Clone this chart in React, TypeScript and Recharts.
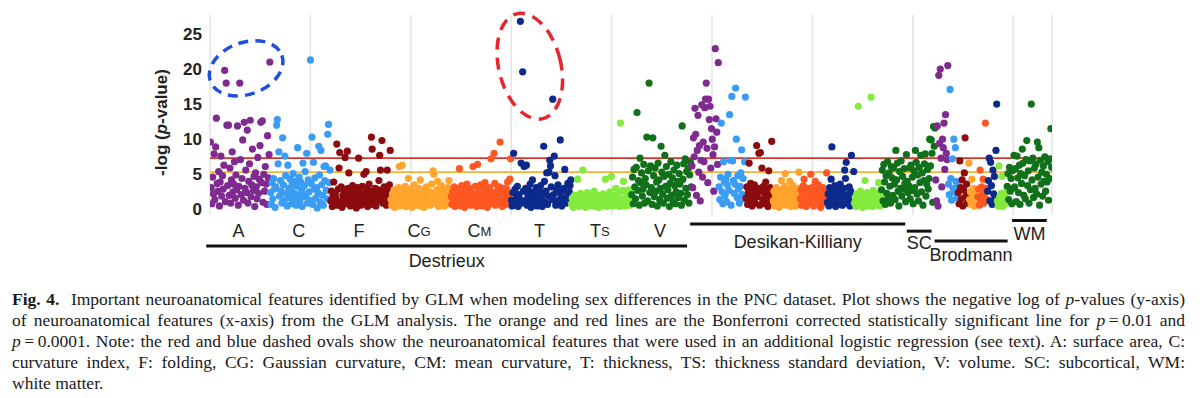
import React from 'react';
import {
  ScatterChart,
  Scatter,
  XAxis,
  YAxis,
  CartesianGrid,
  ReferenceLine,
  ReferenceDot,
} from 'recharts';

// ---------------- DATA: -log(p-value) per feature, in x order ----------------
// Destrieux atlas
const destrieuxArea = [
  9.6, 3.1, 0.8, 4.6, 2.2, 7.9, 1.4, 8.9, 13.0, 3.7,
  2.6, 5.4, 0.5, 3.9, 7.6, 1.9, 4.8, 2.9, 6.3, 19.8,
  1.1, 18.0, 12.0, 3.4, 12.0, 2.0, 5.9, 0.9, 4.2, 8.2,
  2.5, 3.6, 6.8, 1.6, 4.9, 2.8, 11.9, 0.6, 3.3, 18.0,
  7.1, 2.1, 4.4, 9.9, 1.3, 12.4, 3.0, 5.6, 2.4, 11.3,
  0.9, 4.0, 6.5, 12.7, 1.8, 3.5, 8.6, 2.7, 4.7, 0.4,
  5.2, 3.2, 1.5, 7.4, 2.3, 4.3, 9.1, 12.4, 3.8, 12.6,
  1.0, 5.0, 2.6, 6.1, 3.6, 0.7, 10.5, 4.5, 7.8, 21.0,
];
const destrieuxCurvIdx = [
  2.4, 0.7, 3.8, 1.5, 4.4, 2.9, 0.3, 3.2, 12.0, 12.8,
  6.5, 8.2, 1.9, 4.1, 2.6, 0.9, 10.2, 3.5, 1.2, 7.6,
  4.8, 2.2, 0.5, 6.3, 3.0, 1.7, 4.3, 2.7, 0.8, 3.6,
  5.1, 1.4, 2.3, 4.0, 0.6, 3.3, 8.8, 2.0, 4.6, 1.1,
  3.9, 2.8, 0.4, 6.6, 1.8, 3.4, 5.4, 2.1, 8.0, 0.9,
  4.2, 2.5, 1.3, 21.3, 3.7, 10.3, 0.7, 6.7, 2.9, 4.5,
  1.6, 3.1, 0.2, 2.4, 9.0, 4.9, 1.0, 8.4, 3.5, 2.0,
  0.6, 6.1, 4.1, 6.2, 2.7, 1.5, 10.7, 12.1, 3.8, 5.6,
];
const destrieuxFolding = [
  1.2, 2.6, 0.4, 1.8, 3.9, 0.9, 2.2, 1.5, 9.3, 0.6,
  2.9, 5.9, 8.1, 1.1, 3.2, 0.3, 2.0, 1.6, 2.7, 7.4,
  0.8, 1.9, 8.3, 3.0, 5.2, 1.3, 0.5, 2.4, 1.7, 3.4,
  0.9, 2.1, 1.4, 2.8, 0.2, 1.8, 3.1, 7.3, 1.0, 2.5,
  0.6, 1.5, 3.3, 2.2, 5.0, 0.8, 1.2, 5.4, 2.9, 0.4,
  1.9, 3.6, 1.1, 2.6, 10.3, 8.6, 0.7, 2.3, 1.6, 3.0,
  0.5, 2.0, 1.3, 2.8, 4.1, 7.7, 5.6, 1.7, 9.8, 0.9,
  2.4, 3.2, 1.0, 2.1, 0.6, 5.6, 1.5, 2.7, 3.5, 8.4,
];
const destrieuxGaussCurv = [
  1.4, 0.6, 2.2, 1.0, 2.8, 0.3, 1.7, 2.4, 0.9, 1.3,
  3.1, 6.1, 0.5, 2.0, 1.2, 6.3, 2.6, 0.8, 1.5, 3.3,
  0.4, 1.9, 2.3, 4.4, 1.1, 0.7, 2.9, 1.6, 0.3, 2.1,
  1.4, 3.5, 0.9, 1.8, 2.5, 0.6, 1.2, 3.0, 2.0, 4.2,
  0.5, 1.6, 2.7, 1.0, 0.3, 2.2, 1.4, 3.2, 0.8, 1.9,
  2.6, 1.1, 0.6, 2.4, 3.6, 1.3, 5.5, 5.0, 0.9, 2.0,
  1.5, 2.8, 4.0, 0.4, 1.7, 2.3, 1.0, 3.4, 0.7, 1.8,
  2.5, 0.5, 1.2, 2.9, 1.6, 0.8, 3.1, 4.1, 1.4, 2.2,
];
const destrieuxMeanCurv = [
  1.8, 0.7, 2.5, 1.3, 3.2, 0.4, 2.0, 1.6, 2.9, 0.9,
  1.2, 5.8, 2.3, 0.5, 3.4, 1.9, 1.0, 2.6, 0.3, 1.5,
  2.8, 3.6, 0.8, 2.1, 1.4, 3.0, 0.6, 2.4, 1.7, 6.1,
  0.9, 2.2, 3.3, 1.1, 0.4, 6.4, 1.8, 2.7, 0.7, 3.5,
  1.3, 2.0, 0.5, 2.9, 1.6, 3.8, 1.0, 2.3, 0.3, 1.9,
  2.6, 3.1, 1.2, 7.2, 0.8, 2.4, 1.5, 8.0, 3.7, 0.6,
  2.1, 1.4, 2.8, 0.9, 3.2, 9.6, 1.7, 2.5, 0.4, 1.1,
  3.0, 2.2, 1.6, 0.7, 2.9, 3.9, 1.3, 2.0, 4.3, 7.2,
];
const destrieuxThickness = [
  1.3, 0.5, 2.4, 8.0, 1.0, 2.9, 0.7, 1.8, 3.3, 0.4,
  2.1, 1.5, 26.8, 6.6, 0.9, 19.6, 2.6, 6.1, 1.2, 3.0,
  6.3, 0.6, 1.9, 2.7, 1.4, 3.6, 0.3, 2.2, 4.2, 1.1,
  0.8, 2.5, 1.7, 3.1, 0.5, 2.0, 1.3, 2.8, 0.9, 3.4,
  1.6, 0.4, 2.3, 9.0, 4.0, 1.0, 2.6, 5.2, 0.7, 1.9,
  5.3, 7.0, 6.2, 3.2, 1.4, 15.7, 2.1, 7.6, 4.8, 0.6,
  2.9, 1.2, 3.5, 0.8, 2.4, 9.9, 1.7, 0.5, 2.7, 1.1,
  3.0, 5.7, 1.5, 0.9, 2.2, 3.7, 1.3, 2.5, 3.4, 4.2,
];
const destrieuxThickSD = [
  0.8, 1.6, 0.3, 1.1, 2.0, 0.6, 1.4, 0.9, 4.3, 1.8,
  0.4, 1.2, 2.3, 0.7, 1.5, 5.6, 0.5, 1.9, 1.0, 0.3,
  1.7, 2.4, 0.8, 1.3, 0.5, 2.1, 1.0, 0.6, 1.6, 0.9,
  2.6, 0.4, 1.2, 1.8, 0.7, 1.4, 0.3, 2.0, 1.1, 0.5,
  1.7, 0.8, 2.2, 1.3, 0.6, 4.3, 1.5, 0.4, 1.9, 1.0,
  0.7, 2.5, 1.2, 4.7, 0.5, 1.6, 0.9, 2.0, 1.3, 3.0,
  0.6, 1.8, 1.1, 2.3, 0.4, 12.3, 1.4, 0.8, 2.7, 4.0,
  1.0, 0.5, 1.7, 2.1, 0.9, 1.3, 2.8, 0.6, 1.5, 2.4,
];
const destrieuxVolume = [
  2.1, 4.6, 0.8, 5.7, 3.2, 1.5, 6.0, 13.8, 2.7, 4.1,
  0.6, 7.3, 3.8, 5.2, 1.9, 2.9, 6.4, 0.9, 4.4, 3.5,
  10.3, 1.2, 5.5, 18.0, 2.4, 6.2, 3.1, 0.7, 10.2, 4.8,
  1.8, 5.9, 2.6, 3.9, 0.5, 6.6, 4.2, 1.4, 3.0, 9.0,
  5.3, 2.2, 0.9, 4.7, 7.7, 3.3, 6.1, 1.6, 2.8, 5.0,
  0.4, 3.7, 6.8, 2.0, 4.5, 1.1, 5.6, 3.4, 0.8, 2.5,
  6.3, 4.0, 1.7, 5.1, 3.6, 2.3, 0.6, 11.9, 4.3, 6.5,
  1.3, 7.2, 3.0, 5.4, 2.1, 5.8, 0.9, 4.9, 6.7, 3.2,
];
// Desikan-Killiany atlas
const desikanArea = [
  6.2, 3.1, 10.2, 7.5, 14.4, 10.7, 2.0, 8.4, 13.4, 5.3,
  9.1, 1.2, 7.0, 14.9, 4.6, 9.6, 6.8, 14.5, 15.7, 18.0,
  8.7, 3.8, 15.7, 12.8, 14.7, 5.9, 11.5, 10.0, 7.8, 2.6,
  8.9, 22.9, 12.9, 11.0, 6.4, 20.9,
];
const desikanCurvIdx = [
  3.2, 1.4, 4.6, 12.3, 2.5, 0.8, 6.8, 3.9, 2.0, 4.3,
  1.1, 3.5, 5.0, 2.7, 13.5, 7.0, 0.6, 16.1, 6.9, 4.1,
  2.3, 3.6, 17.3, 10.0, 1.7, 4.8, 2.9, 0.9, 3.3, 5.2,
  8.5, 2.1, 4.4, 1.5, 6.8, 16.0,
];
const desikanFolding = [
  1.6, 3.2, 0.7, 2.4, 6.6, 1.1, 3.7, 2.0, 0.5, 2.8,
  1.3, 3.5, 0.9, 2.2, 9.1, 1.8, 3.0, 8.0, 0.6, 8.1,
  2.6, 5.9, 1.4, 3.3, 0.8, 2.1, 3.9, 1.2, 2.7, 0.4,
  5.5, 1.9, 3.1, 2.3, 9.7, 1.0,
];
const desikanGaussCurv = [
  1.2, 2.6, 0.5, 1.9, 3.1, 0.9, 2.2, 1.5, 0.3, 2.8,
  1.7, 4.1, 0.7, 2.4, 1.1, 3.3, 5.1, 1.4, 0.6, 2.0,
  2.9, 1.0, 4.0, 0.4, 1.8, 2.5, 3.4, 0.8, 1.3, 2.1,
  0.5, 2.7, 1.6, 3.0, 5.3, 1.2,
];
const desikanMeanCurv = [
  1.5, 2.8, 0.6, 2.1, 3.4, 4.3, 1.0, 2.5, 0.4, 1.8,
  3.0, 1.3, 2.6, 0.8, 5.0, 2.2, 1.6, 3.2, 0.5, 1.9,
  4.0, 2.7, 1.1, 0.7, 3.5, 2.3, 1.4, 0.3, 2.9, 1.7,
  3.1, 0.9, 2.0, 1.2, 2.6, 5.2,
];
const desikanThickness = [
  1.0, 2.2, 0.5, 3.1, 1.6, 4.3, 8.9, 2.7, 0.8, 1.9,
  3.4, 0.4, 2.3, 1.2, 2.9, 0.7, 1.5, 3.6, 1.1, 2.5,
  0.6, 1.8, 3.0, 5.6, 4.4, 6.7, 0.9, 2.1, 1.4, 3.2,
  0.5, 2.6, 7.7, 1.3, 2.0, 5.4,
];
const desikanThickSD = [
  0.9, 1.7, 0.4, 2.2, 1.2, 14.7, 0.6, 1.9, 2.6, 0.8,
  1.4, 0.3, 2.0, 1.1, 4.1, 0.7, 1.6, 2.4, 0.5, 1.3,
  2.1, 0.9, 16.0, 1.8, 0.4, 2.7, 1.0, 1.5, 0.6, 2.3,
  1.2, 0.8, 3.8, 1.7, 0.5, 2.0,
];
const desikanVolume = [
  2.8, 5.6, 1.2, 6.4, 3.9, 0.7, 4.8, 2.3, 6.8, 1.6,
  5.2, 3.3, 0.9, 6.1, 4.5, 2.0, 5.9, 3.6, 1.4, 8.4,
  4.2, 6.6, 2.6, 0.5, 5.4, 3.0, 6.9, 1.9, 4.7, 2.9,
  5.8, 3.7, 1.1, 7.8, 4.0, 2.4,
];
// Subcortical
const subcortical = [
  3.4, 5.9, 1.5, 6.3, 2.7, 4.6, 0.8, 5.5, 3.1, 8.4,
  6.7, 2.2, 4.9, 1.2, 6.0, 3.8, 7.7, 2.5, 5.2, 0.6,
  4.1, 6.5, 7.9, 1.9, 3.6, 5.7, 2.9, 4.4, 10.0, 6.2,
  9.9, 8.0, 1.0, 11.8, 9.0, 11.6,
];
// Brodmann areas
const brodmannArea = [4.2, 1.2, 11.9, 0.5, 19.1, 9.4, 20.0, 7.3, 3.2, 10.0, 8.8, 12.3, 5.7, 13.5, 8.0, 7.1, 20.5];
const brodmannCurvIdx = [3.6, 2.1, 17.1, 4.4, 1.3, 7.2, 3.0, 10.0, 2.5, 8.8, 4.0, 1.7, 3.3];
const brodmannFolding = [2.4, 0.8, 6.9, 3.1, 1.5, 4.2, 0.5, 2.8, 5.2, 10.2, 1.9, 3.6, 0.9, 2.2];
const brodmannGaussCurv = [6.6, 1.4, 2.5, 0.7, 4.3, 1.9, 3.0, 0.5, 2.2, 1.1, 2.8, 1.6];
const brodmannMeanCurv = [1.8, 2.9, 0.6, 5.6, 1.3, 3.2, 2.0, 4.3, 0.9, 2.5, 12.3, 1.5, 3.0];
const brodmannThickness = [2.6, 4.1, 7.3, 1.2, 6.7, 3.4, 0.7, 5.6, 2.2, 4.7, 1.6, 8.4, 15.0];
const brodmannThickSD = [1.2, 0.5, 6.2, 1.8, 0.9, 2.3, 4.7, 0.4, 1.5, 2.0, 0.8, 1.3, 2.6];
const brodmannVolume = [3.3, 5.1, 1.4, 6.0, 2.6, 4.4, 0.8, 5.5, 3.0];
// White matter
const whiteMatter = [
  7.7, 3.2, 5.8, 1.1, 7.6, 4.5, 2.4, 6.3, 0.7, 5.1,
  3.7, 8.6, 6.6, 2.0, 4.8, 1.5, 7.1, 9.8, 3.4, 5.5,
  0.9, 6.9, 2.8, 15.0, 4.2, 7.3, 1.7, 5.9, 3.0, 6.4,
  2.2, 9.6, 4.6, 8.8, 0.6, 7.0, 3.6, 5.3, 1.9, 6.2,
  4.0, 7.5, 2.6, 5.0, 3.9, 6.8, 1.3, 4.4, 7.2, 11.5,
  6.0,
];

const categoryLabels = ['A', 'C', 'F', 'CG', 'CM', 'T', 'TS', 'V'];
const yTicks = [0, 5, 10, 15, 20, 25];
const bonferroni001 = 5.3; // p = 0.01
const bonferroni00001 = 7.3; // p = 0.0001
const blueOvalCenter = { x: 48, y: 20.1 };
const redOvalCenter = { x: 425, y: 20.4 };

// ---------------- STYLE ----------------
const PURPLE = '#7e2a8e';
const BLUE = '#3a9cf2';
const DARKRED = '#8b0b0f';
const ORANGE = '#ffa42c';
const REDORANGE = '#ff5722';
const NAVY = '#0c2a8c';
const LIGHTGREEN = '#84ea3e';
const DARKGREEN = '#11701a';
const MEASURE_COLORS = [PURPLE, BLUE, DARKRED, ORANGE, REDORANGE, NAVY, LIGHTGREEN, DARKGREEN];
const SANS = '"Liberation Sans", Arial, Helvetica, sans-serif';
const SERIF = '"Liberation Serif", "Times New Roman", serif';
const CAT_LABEL_Y = -3.1; // value-units below zero where the measure letters sit

const groupValues: number[][] = [
  destrieuxArea, destrieuxCurvIdx, destrieuxFolding, destrieuxGaussCurv,
  destrieuxMeanCurv, destrieuxThickness, destrieuxThickSD, destrieuxVolume,
  desikanArea, desikanCurvIdx, desikanFolding, desikanGaussCurv,
  desikanMeanCurv, desikanThickness, desikanThickSD, desikanVolume,
  subcortical,
  brodmannArea, brodmannCurvIdx, brodmannFolding, brodmannGaussCurv,
  brodmannMeanCurv, brodmannThickness, brodmannThickSD, brodmannVolume,
  whiteMatter,
];
const groupColors: string[] = [
  ...MEASURE_COLORS, ...MEASURE_COLORS, DARKGREEN, ...MEASURE_COLORS, DARKGREEN,
];

let cursor = 0;
const groups = groupValues.map((vals, gi) => {
  const start = cursor;
  const pts = vals.map((v, i) => ({ x: start + i + 0.5, y: v }));
  cursor += vals.length;
  return { start, end: cursor, pts, color: groupColors[gi] };
});
const TOTAL = cursor;

const labelTicks = groups.slice(0, 8).map((g) => (g.start + g.end) / 2 - 2);
const gridStep = (TOTAL * 100.4) / 842;
const gridTicks = [0, 1, 2, 3, 4, 5, 6, 7, 8].map((k) => k * gridStep);

const atlases = [
  { name: 'Destrieux', from: groups[0].start - 5, to: groups[7].end - 6, y: -5.2, offset: 8 },
  { name: 'Desikan-Killiany', from: groups[8].start - 2, to: groups[15].end - 4, y: -2.1, offset: 11 },
  { name: 'SC', from: groups[16].start - 2, to: groups[16].end - 5, y: -3.1, offset: 5 },
  { name: 'Brodmann', from: groups[17].start - 1, to: groups[24].end - 8, y: -4.5, offset: 7 },
  { name: 'WM', from: groups[25].start - 2, to: groups[25].end - 7, y: -1.6, offset: 7 },
];

const Dot = (props: any) => {
  if (props.cx == null || props.cy == null) return null;
  return <circle cx={props.cx} cy={props.cy} r={3.6} fill={props.fill} />;
};

const catLabelShape = (lab: string) => (p: any) => {
  if (p.cx == null || p.cy == null) return null;
  const main = lab.charAt(0);
  const sub = lab.slice(1);
  return (
    <text x={p.cx} y={p.cy} dominantBaseline="central" textAnchor="middle" fontFamily={SANS} fontSize={18} fill="#222">
      {main}
      {sub ? <tspan fontSize={13}>{sub}</tspan> : null}
    </text>
  );
};

const YLabel = (props: any) => {
  const vb = props.viewBox || { x: 0, y: 15, width: 210, height: 200 };
  const cx = 161;
  const cy = vb.y + vb.height / 2 + 7.5;
  return (
    <text
      x={cx}
      y={cy}
      transform={`rotate(-90, ${cx}, ${cy})`}
      textAnchor="middle"
      dominantBaseline="central"
      fontFamily={SANS}
      fontWeight="bold"
      fontSize={17}
      fill="#222"
    >
      -log (<tspan fontStyle="italic">p</tspan>-value)
    </text>
  );
};

const ovalShape = (rx: number, ry: number, rot: number, color: string, dash: string) => (p: any) => {
  if (p.cx == null || p.cy == null) return null;
  return (
    <ellipse
      cx={p.cx}
      cy={p.cy}
      rx={rx}
      ry={ry}
      transform={`rotate(${rot}, ${p.cx}, ${p.cy})`}
      fill="none"
      stroke={color}
      strokeWidth={3.5}
      strokeDasharray={dash}
    />
  );
};

const hGen = (args: any) => {
  const yAxis = args && args.yAxis;
  if (yAxis && typeof yAxis.scale === 'function') {
    return yTicks.map((t) => yAxis.scale(t));
  }
  return [];
};

const captionLines: React.ReactNode[] = [
  <>
    <b>Fig. 4.</b>&nbsp; Important neuroanatomical features identified by GLM when modeling sex differences in the PNC dataset. Plot shows the negative log of <i>p</i>-values (y-axis)
  </>,
  <>
    of neuroanatomical features (x-axis) from the GLM analysis. The orange and red lines are the Bonferroni corrected statistically significant line for <i>p</i>&thinsp;=&thinsp;0.01 and
  </>,
  <>
    <i>p</i>&thinsp;=&thinsp;0.0001. Note: the red and blue dashed ovals show the neuroanatomical features that were used in an additional logistic regression (see text). A: surface area, C:
  </>,
  <>curvature index, F: folding, CG: Gaussian curvature, CM: mean curvature, T: thickness, TS: thickness standard deviation, V: volume. SC: subcortical, WM:</>,
  <>white matter.</>,
];

export default function App() {
  return (
    <div style={{ position: 'absolute', left: 0, top: 0, width: 1200, height: 398, background: '#fff', overflow: 'hidden' }}>
      <ScatterChart
        width={1200}
        height={290}
        margin={{ top: 15, right: 148, bottom: 75, left: 0 }}
        style={{ fontFamily: SANS }}
      >
        <CartesianGrid stroke="#e3e3e3" strokeWidth={1.5} horizontalCoordinatesGenerator={hGen} />
        <XAxis
          type="number"
          dataKey="x"
          domain={[0, TOTAL]}
          ticks={gridTicks}
          tickFormatter={() => ''}
          tickLine={{ stroke: '#e3e3e3', strokeWidth: 1.5 }}
          tickSize={6}
          axisLine={false}
          height={0}
          allowDataOverflow
        />
        <YAxis
          type="number"
          dataKey="y"
          domain={[-0.8, 27.7]}
          ticks={yTicks}
          width={210}
          axisLine={false}
          tickLine={false}
          allowDataOverflow
          tick={{ fontSize: 17, fontWeight: 'bold', fill: '#222', fontFamily: SANS }}
          label={{ content: <YLabel /> } as any}
        />
        {groups.map((g, i) => (
          <Scatter
            key={i}
            data={g.pts}
            fill={g.color}
            shape={<Dot />}
            isAnimationActive={false}
          />
        ))}
        <ReferenceLine y={bonferroni00001} stroke="#d8362c" strokeWidth={1.8} />
        <ReferenceLine y={bonferroni001} stroke="#f2b33d" strokeWidth={1.8} />
        <ReferenceDot
          x={blueOvalCenter.x}
          y={blueOvalCenter.y}
          ifOverflow="visible"
          shape={ovalShape(38, 26, -20, '#1d4fe0', '10 7')}
        />
        <ReferenceDot
          x={redOvalCenter.x}
          y={redOvalCenter.y}
          ifOverflow="visible"
          shape={ovalShape(31, 54, -14, '#e6262a', '12 8')}
        />
        {labelTicks.map((t, i) => (
          <ReferenceDot
            key={'cat' + i}
            x={t}
            y={CAT_LABEL_Y}
            ifOverflow="visible"
            shape={catLabelShape(categoryLabels[i])}
          />
        ))}
        {atlases.map((a) => (
          <ReferenceLine
            key={a.name}
            segment={[{ x: a.from, y: a.y }, { x: a.to, y: a.y }]}
            stroke="#111"
            strokeWidth={3}
            ifOverflow="visible"
            label={{ value: a.name, position: 'bottom', offset: a.offset, fill: '#222', fontSize: 18, fontFamily: SANS }}
          />
        ))}
      </ScatterChart>
      <div
        style={{
          position: 'absolute',
          left: 12,
          top: 289,
          width: 1173,
          fontFamily: SERIF,
          fontSize: 17.5,
          lineHeight: '21px',
          color: '#1a1a1a',
        }}
      >
        {captionLines.map((ln, i) => (
          <div
            key={i}
            style={{
              whiteSpace: 'nowrap',
              textAlign: i === captionLines.length - 1 ? 'left' : 'justify',
              textAlignLast: i === captionLines.length - 1 ? 'left' : 'justify',
            }}
          >
            {ln}
          </div>
        ))}
      </div>
    </div>
  );
}
